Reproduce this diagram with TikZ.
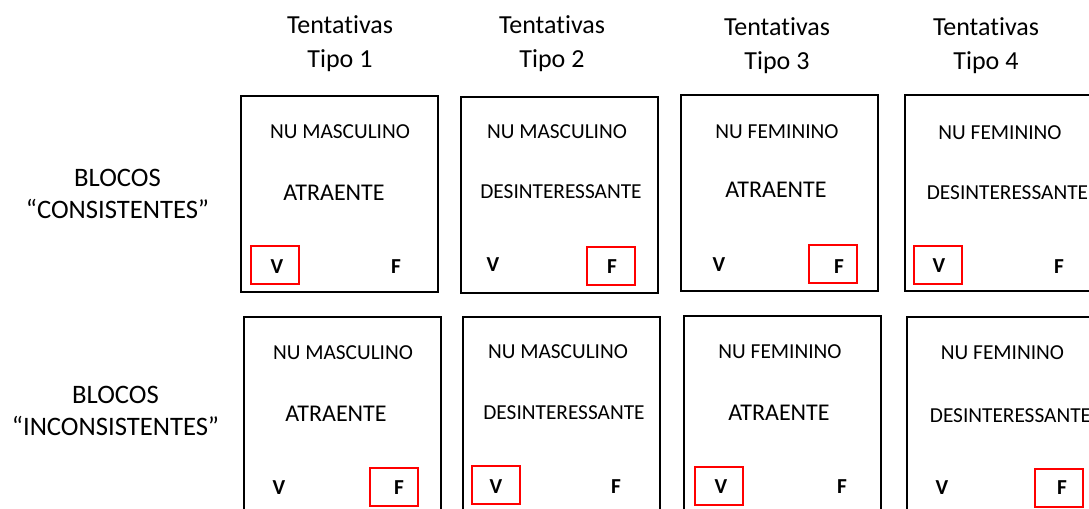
\documentclass[tikz,border=0pt]{standalone}
\usepackage{fontspec}
\setmainfont{Carlito}[Ligatures=NoCommon]
\usepackage{tikz}

\begin{document}
\begin{tikzpicture}[x=0.75pt, y=-0.75pt,
    titulo/.style={align=center, inner sep=0pt, font=\fontsize{19.5}{25.5}\selectfont},
    bloco/.style={align=center, inner sep=0pt, font=\fontsize{20}{24}\selectfont},
    trial/.style={draw, line width=1.5pt, minimum width=147.75pt, minimum height=147pt, inner sep=0pt},
    nu/.style={inner sep=0pt, font=\fontsize{16}{19}\selectfont},
    atr/.style={inner sep=0pt, font=\fontsize{18}{22}\selectfont},
    resp/.style={inner sep=0pt, font=\bfseries\fontsize{16}{19}\selectfont},
    marca/.style={draw=red, line width=1.1pt, minimum width=36pt, minimum height=28.5pt, inner sep=0pt}]
        \useasboundingbox (0, 0) rectangle (1089, 509);
        \clip (0, 0) rectangle (1089, 509);

        \node[titulo] (t1) at (340, 44) {Tentat\kern0pt ivas\\Tipo 1};
        \node[titulo] (t2) at (552, 44) {Tentat\kern0pt ivas\\Tipo 2};
        \node[titulo] (t3) at (777, 46) {Tentat\kern0pt ivas\\Tipo 3};
        \node[titulo] (t4) at (986, 46) {Tentat\kern0pt ivas\\Tipo 4};

        \node[bloco] (c) at (117.5, 194) {BLOCOS\\“CONSISTENTES”};
        \node[bloco] (i) at (115.5, 411) {BLOCOS\\“INCONSISTENTES”};

        %% blocos consistentes
        \node[trial] (b11) at (339.5, 194.5) {};
        \node[nu] (n11) at (340, 132) {NU MASCULINO};
        \node[atr] (a11) at (334, 193) {ATRAENTE};
        \node[marca] (r11) at (275, 265) {};
        \node[resp] (v11) at (277, 267) {V};
        \node[resp] (f11) at (396, 267) {F};

        \node[trial] (b12) at (559.5, 195) {};
        \node[nu] (n12) at (557, 132) {NU MASCULINO};
        \node[nu] (a12) at (561, 192) {DESINTERESSANTE};
        \node[marca] (r12) at (611, 266) {};
        \node[resp] (v12) at (493, 265) {V};
        \node[resp] (f12) at (612, 267) {F};

        \node[trial] (b13) at (779, 193.5) {};
        \node[nu] (n13) at (777, 132) {NU FEMININO};
        \node[atr] (a13) at (776, 190) {ATRAENTE};
        \node[marca] (r13) at (833, 264) {};
        \node[resp] (v13) at (719, 265) {V};
        \node[resp] (f13) at (839, 267) {F};

        \node[trial] (b14) at (1003.5, 193.5) {};
        \node[nu] (n14) at (1000, 133) {NU FEMININO};
        \node[nu] (a14) at (1007.5, 193) {DESINTERESSANTE};
        \node[marca] (r14) at (938, 265) {};
        \node[resp] (v14) at (939, 266) {V};
        \node[resp] (f14) at (1059, 267) {F};

        %% blocos inconsistentes
        \node[trial] (b21) at (342, 415) {};
        \node[nu] (n21) at (343, 353) {NU MASCULINO};
        \node[atr] (a21) at (336, 414) {ATRAENTE};
        \node[marca] (r21) at (394, 487) {};
        \node[resp] (v21) at (279, 488) {V};
        \node[resp] (f21) at (399, 488) {F};

        \node[trial] (b22) at (561.5, 415) {};
        \node[nu] (n22) at (558, 352) {NU MASCULINO};
        \node[nu] (a22) at (564, 413) {DESINTERESSANTE};
        \node[marca] (r22) at (496, 485) {};
        \node[resp] (v22) at (496, 487) {V};
        \node[resp] (f22) at (616, 487) {F};

        \node[trial] (b23) at (782.5, 414) {};
        \node[nu] (n23) at (780, 352) {NU FEMININO};
        \node[atr] (a23) at (779, 413) {ATRAENTE};
        \node[marca] (r23) at (719, 486) {};
        \node[resp] (v23) at (721, 487) {V};
        \node[resp] (f23) at (842, 487) {F};

        \node[trial] (b24) at (1005.5, 415) {};
        \node[nu] (n24) at (1002.5, 353) {NU FEMININO};
        \node[nu] (a24) at (1010.5, 416) {DESINTERESSANTE};
        \node[marca] (r24) at (1059, 488) {};
        \node[resp] (v24) at (942, 488) {V};
        \node[resp] (f24) at (1062, 488) {F};
\end{tikzpicture}
\end{document}
